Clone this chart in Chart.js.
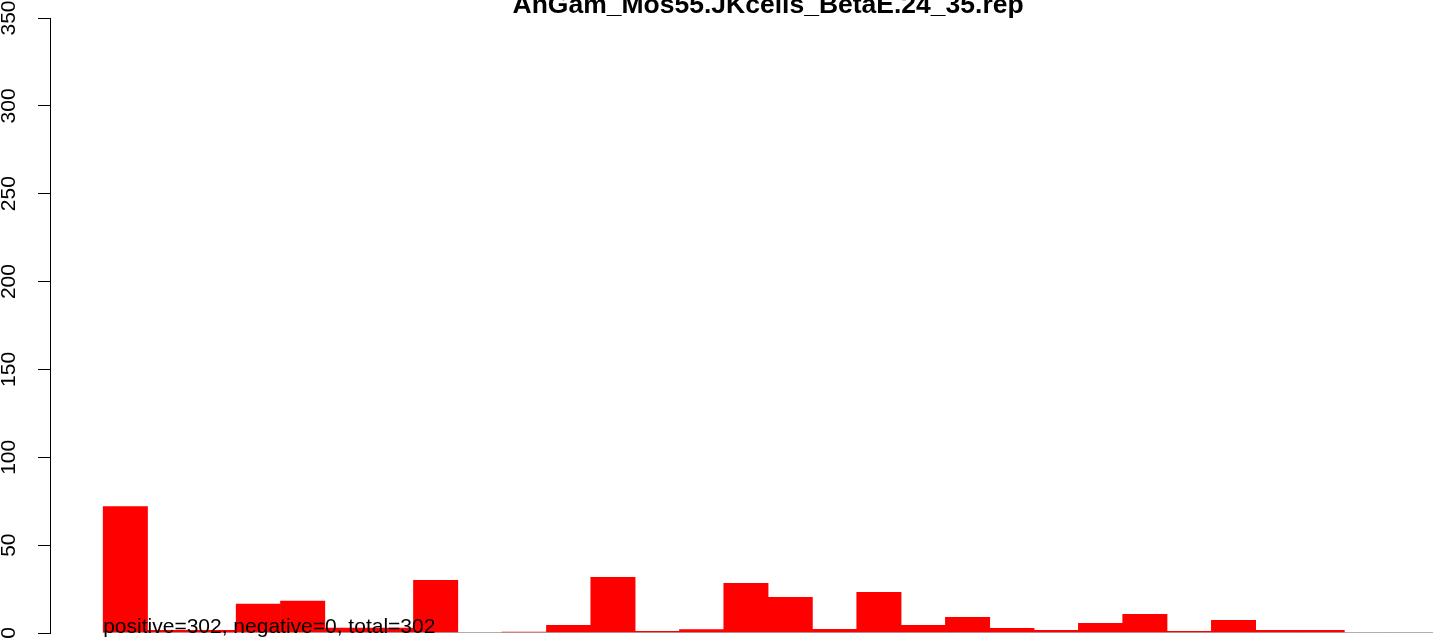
<!DOCTYPE html>
<html lang="en">
<head>
    <meta charset="UTF-8">
    <title>AnGam_Mos55.JKcells_BetaE.24_35.rep</title>
    <script src="https://cdn.jsdelivr.net/npm/chart.js"></script>
    <style>
        body { margin: 0; background: #fff; }
        #box { width: 1444px; height: 643px; position: relative; }
    </style>
</head>
<body>
    <div id="box"><canvas id="repChart"></canvas></div>

    <script>
        var title = 'AnGam_Mos55.JKcells_BetaE.24_35.rep';
        var note = 'positive=302, negative=0, total=302';

        // one bar per bin, bins numbered left to right
        var bins = [1, 2, 3, 4, 5, 6, 7, 8, 9, 10, 11, 12, 13, 14, 15,
                    16, 17, 18, 19, 20, 21, 22, 23, 24, 25, 26, 27, 28, 29, 30];
        var positive = [72, 1.5, 1.5, 16.4, 18.1, 2.8, 2.8, 30, 0, 0.5,
                        4.4, 31.7, 1, 2, 28.3, 20.3, 2.1, 23.2, 4.4, 8.9,
                        2.7, 1.5, 5.5, 10.6, 1, 7.2, 1.5, 1.5, 0, 0];
        var negative = [0, 0, 0, 0, 0, 0, 0, 0, 0, 0, 0, 0, 0, 0, 0,
                        0, 0, 0, 0, 0, 0, 0, 0, 0, 0, 0, 0, 0, 0, 0];
        var yTicks = [0, 50, 100, 150, 200, 250, 300, 350];

        var FONT = '"Liberation Sans", Arial, Helvetica, sans-serif';

        var posPoints = bins.map(function(b, i) { return { x: b - 0.5, y: positive[i] }; });
        // zero height "negative" bars come out as a flat gray outline
        var negPoints = [];
        bins.forEach(function(b, i) {
            negPoints.push({ x: b - 1, y: -negative[i] });
            negPoints.push({ x: b, y: -negative[i] });
        });

        var textPlugin = {
            id: 'texts',
            afterDraw: function(chart) {
                var ctx = chart.ctx;
                var xs = chart.scales.x, ys = chart.scales.y;
                var left = xs.getPixelForValue(bins[0] - 1);
                var right = xs.getPixelForValue(bins[bins.length - 1]);
                ctx.save();
                ctx.fillStyle = '#000';
                ctx.textBaseline = 'alphabetic';
                ctx.textAlign = 'center';
                ctx.font = 'bold 26.5px ' + FONT;
                ctx.fillText(title, (left + right) / 2, 13);
                ctx.textAlign = 'left';
                ctx.font = '21px ' + FONT;
                ctx.fillText(note, left, ys.getPixelForValue(0));
                ctx.restore();
            }
        };

        var ctx = document.getElementById('repChart').getContext('2d');
        var chart = new Chart(ctx, {
            type: 'bar',
            data: {
                datasets: [{
                    type: 'line',
                    label: 'negative',
                    data: negPoints,
                    borderColor: '#a3a3a3',
                    borderWidth: 1.3,
                    pointRadius: 0,
                    fill: false,
                    order: 0
                }, {
                    label: 'positive',
                    data: posPoints,
                    backgroundColor: '#ff0000',
                    borderWidth: 0,
                    barPercentage: 1,
                    categoryPercentage: 1,
                    order: 1
                }]
            },
            options: {
                responsive: true,
                maintainAspectRatio: false,
                animation: false,
                layout: { padding: { left: 0, right: 11, top: 18, bottom: 10 } },
                plugins: {
                    legend: { display: false },
                    tooltip: { enabled: false }
                },
                scales: {
                    x: {
                        type: 'linear',
                        display: false,
                        offset: false,
                        min: -1.2,
                        max: 30
                    },
                    y: {
                        min: 0,
                        max: 350,
                        afterBuildTicks: function(s) {
                            s.ticks = yTicks.map(function(v) { return { value: v }; });
                        },
                        afterFit: function(s) {
                            s.width = 50;
                            s.paddingTop = 0;
                            s.paddingBottom = 0;
                        },
                        border: { display: true, color: '#000', width: 1 },
                        grid: {
                            drawOnChartArea: false,
                            drawTicks: true,
                            tickLength: 12,
                            color: '#000',
                            lineWidth: 1
                        },
                        ticks: {
                            minRotation: 90,
                            maxRotation: 90,
                            crossAlign: 'center',
                            padding: 11,
                            color: '#000',
                            font: { family: FONT, size: 21 }
                        }
                    }
                }
            },
            plugins: [textPlugin]
        });
    </script>
</body>
</html>
